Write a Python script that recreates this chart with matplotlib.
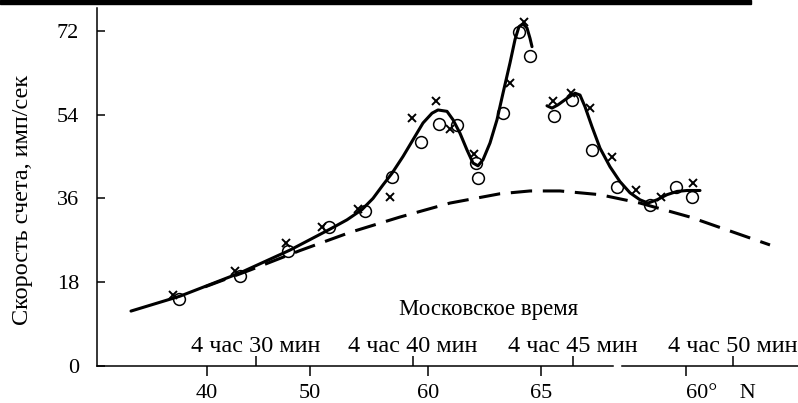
import numpy as np
import matplotlib.pyplot as plt

plt.rcParams['font.family'] = ['Liberation Serif', 'DejaVu Serif']

# x is a position along the flight track (arbitrary units), y is count rate
# solid curve, first part
curve1_x = [3.4, 8.3, 14.3, 19.3, 23.3, 25.0, 26.5, 27.6, 28.6, 29.5, 30.6, 31.6,
            32.6, 33.5, 34.1, 35.0, 35.6, 36.3, 37.0, 37.6, 38.1, 38.6, 39.3, 40.0,
            40.6, 41.3, 41.8, 42.2, 42.6, 43.0, 43.3, 43.5]
curve1_y = [11.8, 15.0, 20.0, 24.9, 29.4, 31.4, 33.6, 36.0, 38.9, 41.4, 45.0, 48.6,
            52.2, 54.3, 55.0, 54.7, 52.9, 50.0, 46.4, 43.6, 43.0, 44.3, 47.9, 52.9,
            58.6, 65.1, 70.1, 72.9, 73.5, 72.6, 70.4, 68.6]
# solid curve, second part
curve2_x = [45.0, 45.5, 46.1, 47.0, 47.8, 48.3, 48.8, 49.5, 50.3, 51.3, 52.3, 53.3,
            54.3, 55.1, 56.0, 57.0, 58.0, 59.0, 60.3]
curve2_y = [55.9, 55.4, 56.1, 57.5, 58.6, 58.2, 55.7, 51.4, 46.8, 42.8, 39.6, 37.2,
            35.7, 35.0, 35.7, 36.8, 37.5, 37.7, 37.7]
# dashed background curve
dash_x = [10.8, 15.3, 20.3, 25.3, 30.3, 35.3, 40.3, 43.3, 46.3, 50.3, 54.3, 59.3, 63.3, 67.3]
dash_y = [17.0, 20.6, 24.8, 28.7, 32.0, 35.0, 37.0, 37.6, 37.6, 36.8, 35.0, 32.0, 29.0, 26.0]

# measured points
circ_x = [8.2, 14.3, 19.1, 23.2, 26.8, 29.5, 32.4, 34.2, 36.0, 37.9, 38.1, 40.6,
          42.2, 43.3, 45.7, 47.5, 49.5, 52.0, 55.3, 57.9, 59.5]
circ_y = [14.4, 19.4, 24.6, 29.9, 33.2, 40.7, 48.1, 52.0, 51.8, 43.6, 40.3, 54.3,
          71.8, 66.5, 53.7, 57.2, 46.3, 38.4, 34.6, 38.4, 36.2]
cross_x = [7.6, 13.8, 18.9, 22.5, 26.1, 29.3, 31.5, 33.9, 35.3, 37.7, 41.3, 42.7,
           45.6, 47.4, 49.3, 51.5, 53.9, 56.4, 59.6]
cross_y = [15.3, 20.5, 26.4, 29.9, 33.7, 36.3, 53.2, 57.0, 50.9, 45.5, 60.8, 73.8,
           57.0, 58.7, 55.4, 44.8, 37.8, 36.2, 39.4]

lat_ticks = [11.0, 21.3, 33.1, 44.4, 58.9]
lat_labels = ['40', '50', '60', '65', '60°    N']
time_ticks = [15.9, 31.6, 47.6, 63.6]
time_labels = ['4 час 30 мин', '4 час 40 мин', '4 час 45 мин', '4 час 50 мин']
y_ticks = [0, 18, 36, 54, 72]
axis_break = [51.6, 52.5]

fig = plt.figure(figsize=(7.98, 4.03), dpi=100)
ax = fig.add_axes([97/798, 37/403, 701/798, 358/403])
ax.set_xlim(0, 70.1)
ax.set_ylim(0, 76.9)

ax.plot(curve1_x, curve1_y, color='k', lw=2.2, solid_joinstyle='round', solid_capstyle='round')
ax.plot(curve2_x, curve2_y, color='k', lw=2.2, solid_joinstyle='round', solid_capstyle='round')
ax.plot(dash_x, dash_y, color='k', lw=2.2, linestyle=(0, (7, 3.5)))
ax.plot(circ_x, circ_y, 'o', mfc='none', mec='k', ms=8.5, mew=1.1)
ax.plot(cross_x, cross_y, 'x', color='k', ms=5.5, mew=1.4)

# axes
for s in ['top', 'right', 'bottom']:
    ax.spines[s].set_visible(False)
ax.spines['left'].set_linewidth(1.1)
ax.plot([0, axis_break[0]], [0, 0], color='k', lw=1.1, clip_on=False)
ax.plot([axis_break[1], 70.1], [0, 0], color='k', lw=1.1, clip_on=False)

ax.set_yticks(y_ticks)
ax.tick_params(axis='y', direction='in', length=6, width=1.1, pad=13, labelsize=16)
ax.set_xticks(lat_ticks)
ax.set_xticklabels(lat_labels)
ax.get_xticklabels()[-1].set_ha('left')
ax.tick_params(axis='x', direction='out', length=7, width=1.1, pad=6, labelsize=16)

# time ticks pointing up
ax.set_xticks(time_ticks, minor=True)
ax.tick_params(axis='x', which='minor', direction='in', length=7, width=1.1)
tr = ax.get_xaxis_transform()
for t, lab in zip(time_ticks, time_labels):
    ax.text(t, 0.039, lab, transform=tr, ha='center', va='baseline', fontsize=17.5)
ax.text(39.2, 0.142, 'Московское время', transform=tr, ha='center', va='baseline', fontsize=16.5)

fig.text(23/798, 1 - 200/403, 'Скорость счета, имп/сек', rotation=90,
         ha='center', va='center', fontsize=17.5)

# scan edge at the top
fig.add_artist(plt.Rectangle((0, 1 - 3.5/403), 751/798, 3.5/403,
                             transform=fig.transFigure, color='k'))

fig.savefig('out.png', dpi=100)
